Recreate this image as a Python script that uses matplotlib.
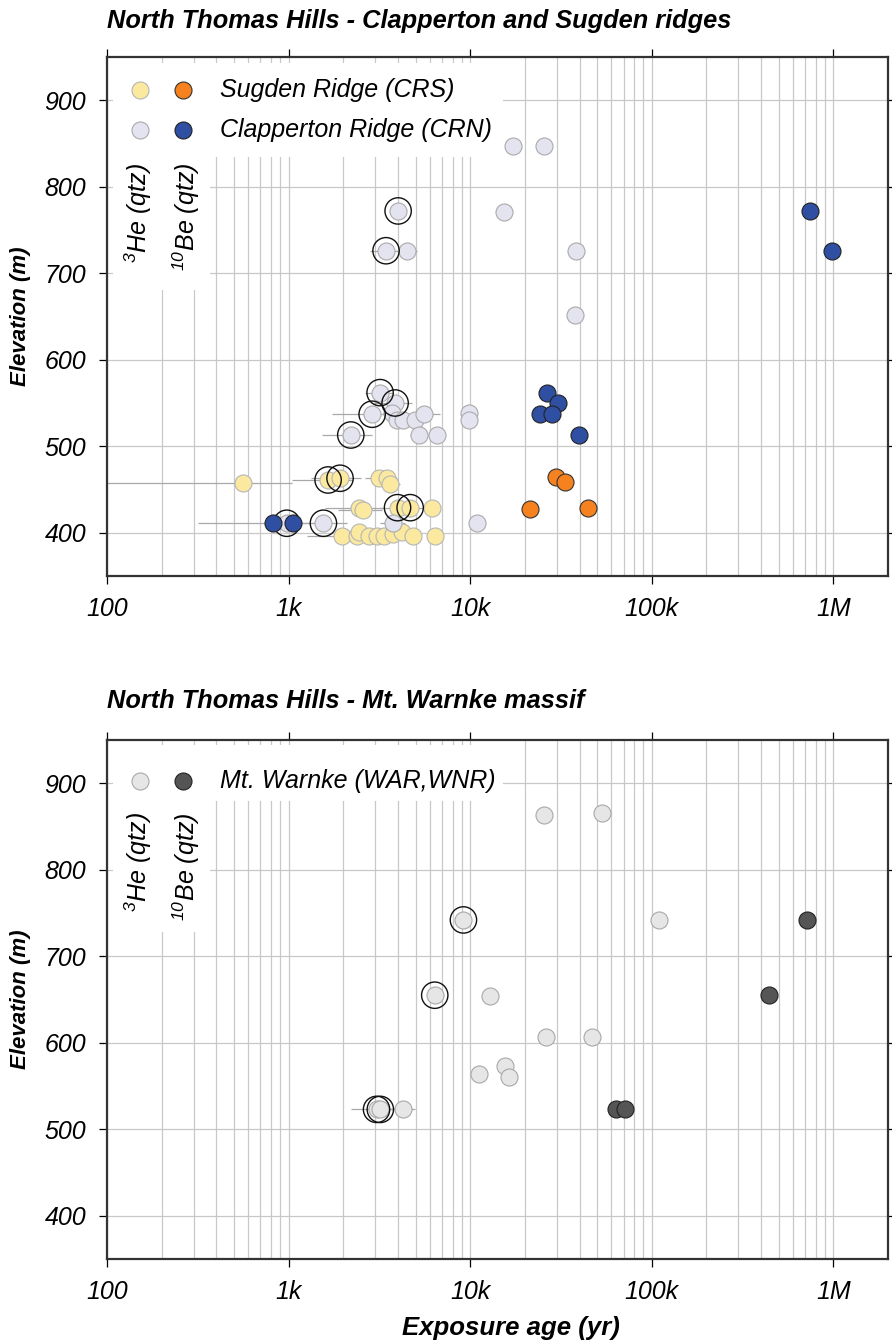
import numpy as np
import matplotlib
matplotlib.use('Agg')
import matplotlib.pyplot as plt
from matplotlib.patches import Rectangle
from matplotlib.ticker import FixedLocator, LogLocator, NullFormatter

plt.rcParams['font.family'] = ['Liberation Sans', 'DejaVu Sans']
plt.rcParams['font.style'] = 'italic'
plt.rcParams['mathtext.default'] = 'regular'

# Sugden Ridge (CRS)
crs_he_age = [560, 1650, 1920, 3150, 3470, 3620, 2440, 2570, 3980, 4670, 6190,
              1960, 2380, 2450, 2780, 3060, 3360, 3780, 4200, 4870, 6410]
crs_he_elev = [457, 461, 463, 463, 463, 456, 429, 426, 429, 429, 429,
               396, 396, 401, 396, 396, 396, 398, 401, 396, 396]
crs_he_err = [490, 610, 600, 500, 500, 500, 850, 700, 800, 800, 0,
              700, 0, 0, 0, 0, 0, 0, 0, 0, 0]
crs_he_ring = [0, 1, 1, 0, 0, 0, 0, 0, 1, 1, 0,
               0, 0, 0, 0, 0, 0, 0, 0, 0, 0]
crs_be_age = [21400, 29800, 33400, 44500]
crs_be_elev = [428, 464, 459, 429]

# Clapperton Ridge (CRN)
crn_he_age = [17200, 25600, 15400, 4010, 3440, 4480, 38200, 37600, 3190, 3860,
              2885, 2200, 3730, 3945, 4290, 4990, 5590, 5240, 6600, 9900, 9850,
              977, 1555, 3780, 10900]
crn_he_elev = [847, 847, 771, 772, 726, 726, 726, 652, 562, 550,
               537, 513, 539, 530, 530, 530, 537, 513, 513, 538, 530,
               411, 411, 411, 411]
crn_he_err = [0, 0, 0, 0, 640, 600, 0, 0, 550, 950,
              1160, 670, 0, 0, 0, 0, 1200, 600, 0, 0, 0,
              660, 540, 600, 0]
crn_he_ring = [0, 0, 0, 1, 1, 0, 0, 0, 1, 1,
               1, 1, 0, 0, 0, 0, 0, 0, 0, 0, 0,
               1, 1, 0, 0]
crn_be_age = [825, 1055, 26500, 30300, 24300, 28200, 39900, 741000, 984000]
crn_be_elev = [411, 411, 562, 550, 537, 537, 513, 772, 726]

# Mt. Warnke (WAR, WNR)
war_he_age = [25600, 53200, 9180, 110000, 6380, 12900, 26100, 46700, 11200,
              15500, 16300, 3050, 3200, 4260]
war_he_elev = [863, 866, 742, 742, 655, 654, 607, 607, 564, 573, 560, 523, 523, 523]
war_he_err = [0, 0, 0, 0, 0, 0, 0, 0, 0, 0, 0, 850, 0, 700]
war_he_ring = [0, 0, 1, 0, 1, 0, 0, 0, 0, 0, 0, 1, 1, 0]
war_be_age = [720000, 444000, 63700, 70800]
war_be_elev = [742, 655, 523, 523]

x_ticks = [100, 1000, 10000, 100000, 1000000]
x_labels = ['100', '1k', '10k', '100k', '1M']
y_ticks = [400, 500, 600, 700, 800, 900]

fig = plt.figure(figsize=(8.92, 13.43), dpi=100)
ax1 = fig.add_axes([0.12, 0.5711, 0.8755, 0.3865])
ax2 = fig.add_axes([0.12, 0.0625, 0.8755, 0.3865])


def setup_axis(ax, title, title_pad):
    ax.set_xscale('log')
    ax.set_xlim(100, 2.0e6)
    ax.set_ylim(350, 950)
    ax.xaxis.set_major_locator(FixedLocator(x_ticks))
    ax.set_xticklabels(x_labels)
    ax.xaxis.set_minor_locator(LogLocator(base=10, subs=np.arange(2, 10)))
    ax.xaxis.set_minor_formatter(NullFormatter())
    ax.set_yticks(y_ticks)
    ax.grid(True, which='both', axis='x', color='#c8c8c8', lw=0.9, zorder=0)
    ax.grid(True, which='major', axis='y', color='#c8c8c8', lw=0.9, zorder=0)
    ax.set_axisbelow(True)
    ax.tick_params(which='major', direction='out', length=6, width=0.9,
                   labelsize=18, top=True, right=True, pad=9)
    ax.tick_params(which='minor', length=0)
    for s in ax.spines.values():
        s.set_linewidth(1.6)
        s.set_color('#333333')
    ax.set_ylabel('Elevation (m)', fontsize=16, fontweight='bold', labelpad=10)
    ax.set_title(title, loc='left', fontsize=18.3, fontweight='bold', pad=title_pad)


def draw_group(ax, ages, elevs, errs, rings, fc, ec):
    errs = np.array(errs, dtype=float)
    has = errs > 0
    ax.errorbar(np.array(ages)[has], np.array(elevs)[has], xerr=errs[has],
                fmt='none', ecolor='#a8a8a8', elinewidth=0.9, capsize=0, zorder=2)
    ax.scatter(ages, elevs, s=150, c=fc, edgecolors=ec, linewidths=0.8, zorder=3)
    rr = np.array(rings, dtype=bool)
    ax.scatter(np.array(ages)[rr], np.array(elevs)[rr], s=360, facecolors='none',
               edgecolors='#111111', linewidths=1.0, zorder=4)


def draw_legend(ax, rows, row_box, col_bottom, label_top):
    ax.add_patch(Rectangle((0.007, row_box[0]), 0.50, row_box[1] - row_box[0],
                           transform=ax.transAxes, facecolor='white',
                           edgecolor='none', zorder=1))
    ax.add_patch(Rectangle((0.007, col_bottom), 0.125, row_box[0] - col_bottom,
                           transform=ax.transAxes, facecolor='white',
                           edgecolor='none', zorder=1))
    for y, c1, e1, c2, e2, label in rows:
        ax.scatter([0.042], [y], s=150, c=c1, edgecolors=e1, linewidths=0.8,
                   transform=ax.transAxes, zorder=5, clip_on=False)
        ax.scatter([0.097], [y], s=150, c=c2, edgecolors=e2, linewidths=0.8,
                   transform=ax.transAxes, zorder=5, clip_on=False)
        ax.text(0.145, y, label, transform=ax.transAxes, fontsize=18,
                va='center', ha='left', zorder=5)
    ax.text(0.040, label_top, '$^{3}$He (qtz)', transform=ax.transAxes,
            rotation=90, fontsize=18, ha='center', va='top', zorder=5)
    ax.text(0.101, label_top, '$^{10}$Be (qtz)', transform=ax.transAxes,
            rotation=90, fontsize=18, ha='center', va='top', zorder=5)


# top panel
setup_axis(ax1, 'North Thomas Hills - Clapperton and Sugden ridges', 21)
draw_group(ax1, crs_he_age, crs_he_elev, crs_he_err, crs_he_ring, '#fbe9a0', '#b5b5b5')
draw_group(ax1, crn_he_age, crn_he_elev, crn_he_err, crn_he_ring, '#e4e3f0', '#aaaaaa')
ax1.scatter(crs_be_age, crs_be_elev, s=150, c='#f5821f', edgecolors='#333333',
            linewidths=0.8, zorder=5)
ax1.scatter(crn_be_age, crn_be_elev, s=150, c='#2f4fa2', edgecolors='#222222',
            linewidths=0.8, zorder=5)
draw_legend(ax1,
            [(0.936, '#fbe9a0', '#b5b5b5', '#f5821f', '#333333', 'Sugden Ridge (CRS)'),
             (0.859, '#e4e3f0', '#aaaaaa', '#2f4fa2', '#222222', 'Clapperton Ridge (CRN)')],
            (0.807, 0.988), 0.551, 0.796)

# bottom panel
setup_axis(ax2, 'North Thomas Hills - Mt. Warnke massif', 23)
draw_group(ax2, war_he_age, war_he_elev, war_he_err, war_he_ring, '#e6e6e6', '#a8a8a8')
ax2.scatter(war_be_age, war_be_elev, s=150, c='#555555', edgecolors='#222222',
            linewidths=0.8, zorder=5)
draw_legend(ax2,
            [(0.921, '#e6e6e6', '#a8a8a8', '#555555', '#222222', 'Mt. Warnke (WAR,WNR)')],
            (0.8825, 0.990), 0.630, 0.861)
ax2.set_xlabel('Exposure age (yr)', fontsize=18.5, fontweight='bold', labelpad=9, x=0.517)

fig.savefig('out.png', dpi=100)
